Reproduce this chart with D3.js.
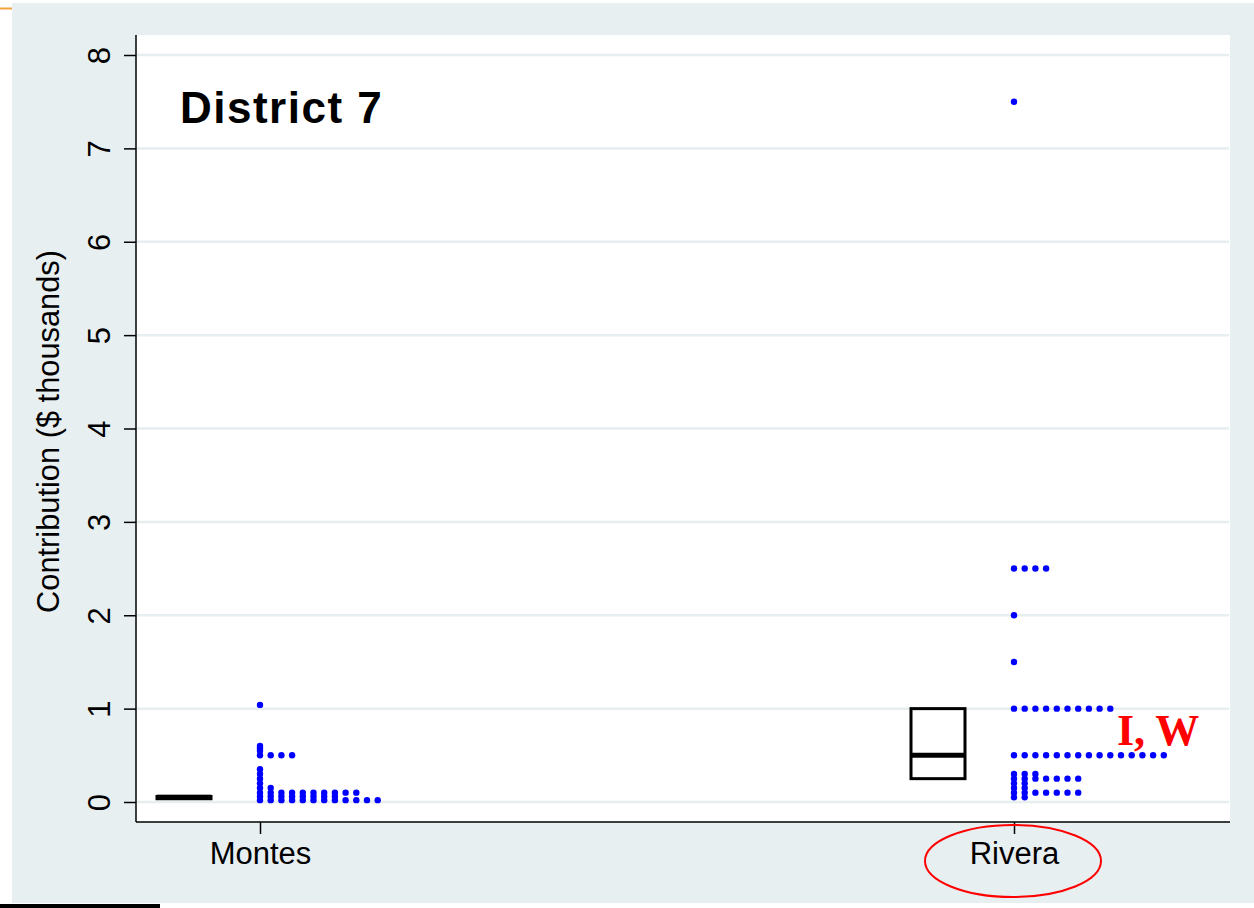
<!DOCTYPE html>
<html>
<head>
<meta charset="utf-8">
<script src="https://cdn.jsdelivr.net/npm/d3@7"></script>
<style>
  html, body { margin: 0; padding: 0; background: #ffffff; }
  svg { display: block; }
</style>
</head>
<body>
<div id="viz"></div>
<script>
// chart data

var candidates = ['Montes', 'Rivera'];

// dot levels (thousands of $) and how many contributions sit on each level
var montesLevels = [1.04, 0.6, 0.575, 0.55, 0.5, 0.35, 0.3, 0.25, 0.2, 0.15, 0.1, 0.06, 0.02];
var montesCounts = [1, 1, 1, 1, 4, 1, 1, 1, 1, 2, 10, 8, 12];

var riveraLevels = [7.5, 2.5, 2.0, 1.5, 1.0, 0.5, 0.3, 0.25, 0.2, 0.15, 0.1, 0.05];
var riveraCounts = [1, 4, 1, 1, 10, 15, 3, 7, 2, 2, 7, 2];

// box summaries, one per candidate
var boxQ1 = [0.035, 0.25];
var boxMedian = [0.05, 0.5];
var boxQ3 = [0.06, 1.0];

var yTicks = [0, 1, 2, 3, 4, 5, 6, 7, 8];

var titleText = 'District 7';
var yTitle = 'Contribution ($ thousands)';
var noteText = 'I, W';

// layout
var W = 1254, H = 908;
var plotL = 136, plotR = 1230, plotT = 35, plotB = 822;
var dotStep = 10.7;
var boxOffset = -76, boxWidth = 54;
var font = '"Liberation Sans", Arial, Helvetica, sans-serif';

var svg = d3.select('#viz').append('svg')
  .attr('width', W)
  .attr('height', H);

// outer background
svg.append('rect')
  .attr('x', 12).attr('y', 3)
  .attr('width', W - 12).attr('height', 900)
  .attr('fill', '#e8eff1');

// small decorations at the page edges
svg.append('line')
  .attr('x1', 0).attr('x2', 12).attr('y1', 8.5).attr('y2', 8.5)
  .attr('stroke', '#f2a33a').attr('stroke-width', 2);
svg.append('rect')
  .attr('x', 0).attr('y', 904).attr('width', 160).attr('height', 4)
  .attr('fill', '#000');

// plot area
svg.append('rect')
  .attr('x', plotL).attr('y', plotT)
  .attr('width', plotR - plotL).attr('height', plotB - plotT)
  .attr('fill', '#ffffff');

var y = d3.scaleLinear().domain([0, 8]).range([802, 55]);
var x = d3.scalePoint().domain(candidates).range([260, 1014]);

// gridlines
svg.append('g')
  .selectAll('line')
  .data(yTicks)
  .enter()
  .append('line')
  .attr('x1', plotL + 1).attr('x2', plotR - 1)
  .attr('y1', function (d) { return y(d); })
  .attr('y2', function (d) { return y(d); })
  .attr('stroke', '#e6eef0')
  .attr('stroke-width', 2.5);

// y axis
var yAxis = svg.append('g')
  .attr('transform', 'translate(' + plotL + ',0)')
  .call(d3.axisLeft(y).tickValues(yTicks).tickSize(12).tickPadding(14).tickFormat(d3.format('d')));
yAxis.select('.domain').remove();
yAxis.append('line')
  .attr('x1', 0).attr('x2', 0).attr('y1', plotT).attr('y2', plotB)
  .attr('stroke', '#000').attr('stroke-width', 1.5);
yAxis.selectAll('.tick line').attr('stroke', '#000').attr('stroke-width', 1.5);
yAxis.selectAll('.tick text')
  .attr('x', null).attr('dy', null)
  .attr('transform', 'translate(-26,0) rotate(-90)')
  .attr('text-anchor', 'middle')
  .attr('fill', '#000')
  .style('font-family', font)
  .style('font-size', '31px');

// x axis
var xAxis = svg.append('g')
  .attr('transform', 'translate(0,' + plotB + ')')
  .call(d3.axisBottom(x).tickSize(12).tickPadding(8));
xAxis.select('.domain').remove();
xAxis.append('line')
  .attr('x1', plotL).attr('x2', plotR).attr('y1', 0).attr('y2', 0)
  .attr('stroke', '#000').attr('stroke-width', 1.5);
xAxis.selectAll('.tick line').attr('stroke', '#000').attr('stroke-width', 1.5);
xAxis.selectAll('.tick text')
  .attr('fill', '#000')
  .style('font-family', font)
  .style('font-size', '31px');

// y axis title
svg.append('text')
  .attr('transform', 'translate(59,' + ((plotT + 802) / 2 + 13) + ') rotate(-90)')
  .attr('text-anchor', 'middle')
  .style('font-family', font)
  .style('font-size', '30.8px')
  .attr('fill', '#000')
  .text(yTitle);

// title
svg.append('text')
  .attr('x', 180).attr('y', 123)
  .style('font-family', font)
  .style('font-size', '44px')
  .style('font-weight', 'bold')
  .style('letter-spacing', '1.5px')
  .attr('fill', '#000')
  .text(titleText);

// boxes
var boxes = svg.append('g').attr('class', 'boxes');
candidates.forEach(function (c, i) {
  var cx = x(c) + boxOffset;
  boxes.append('rect')
    .attr('x', cx - boxWidth / 2)
    .attr('y', y(boxQ3[i]))
    .attr('width', boxWidth)
    .attr('height', y(boxQ1[i]) - y(boxQ3[i]))
    .attr('fill', 'none')
    .attr('stroke', '#000')
    .attr('stroke-width', 3);
  boxes.append('line')
    .attr('x1', cx - boxWidth / 2).attr('x2', cx + boxWidth / 2)
    .attr('y1', y(boxMedian[i])).attr('y2', y(boxMedian[i]))
    .attr('stroke', '#000')
    .attr('stroke-width', 5);
});

// dots: contributions on the same level are spread to the right
function dotRows(c, levels, counts) {
  var out = [];
  levels.forEach(function (v, i) {
    for (var k = 0; k < counts[i]; k++) out.push({ c: c, v: v, k: k });
  });
  return out;
}
var dots = dotRows('Montes', montesLevels, montesCounts)
  .concat(dotRows('Rivera', riveraLevels, riveraCounts));

svg.append('g')
  .selectAll('circle')
  .data(dots)
  .enter()
  .append('circle')
  .attr('cx', function (d) { return x(d.c) + d.k * dotStep; })
  .attr('cy', function (d) { return y(d.v); })
  .attr('r', 3.2)
  .attr('fill', '#0000ff');

// annotations
svg.append('text')
  .attr('x', 1117).attr('y', 745)
  .style('font-family', '"Liberation Serif", "DejaVu Serif", serif')
  .style('font-size', '44px')
  .style('font-weight', 'bold')
  .attr('fill', '#ff0000')
  .text(noteText);

svg.append('ellipse')
  .attr('cx', x('Rivera') - 1).attr('cy', 861)
  .attr('rx', 88).attr('ry', 36)
  .attr('fill', 'none')
  .attr('stroke', '#ff0000')
  .attr('stroke-width', 2);
</script>
</body>
</html>
